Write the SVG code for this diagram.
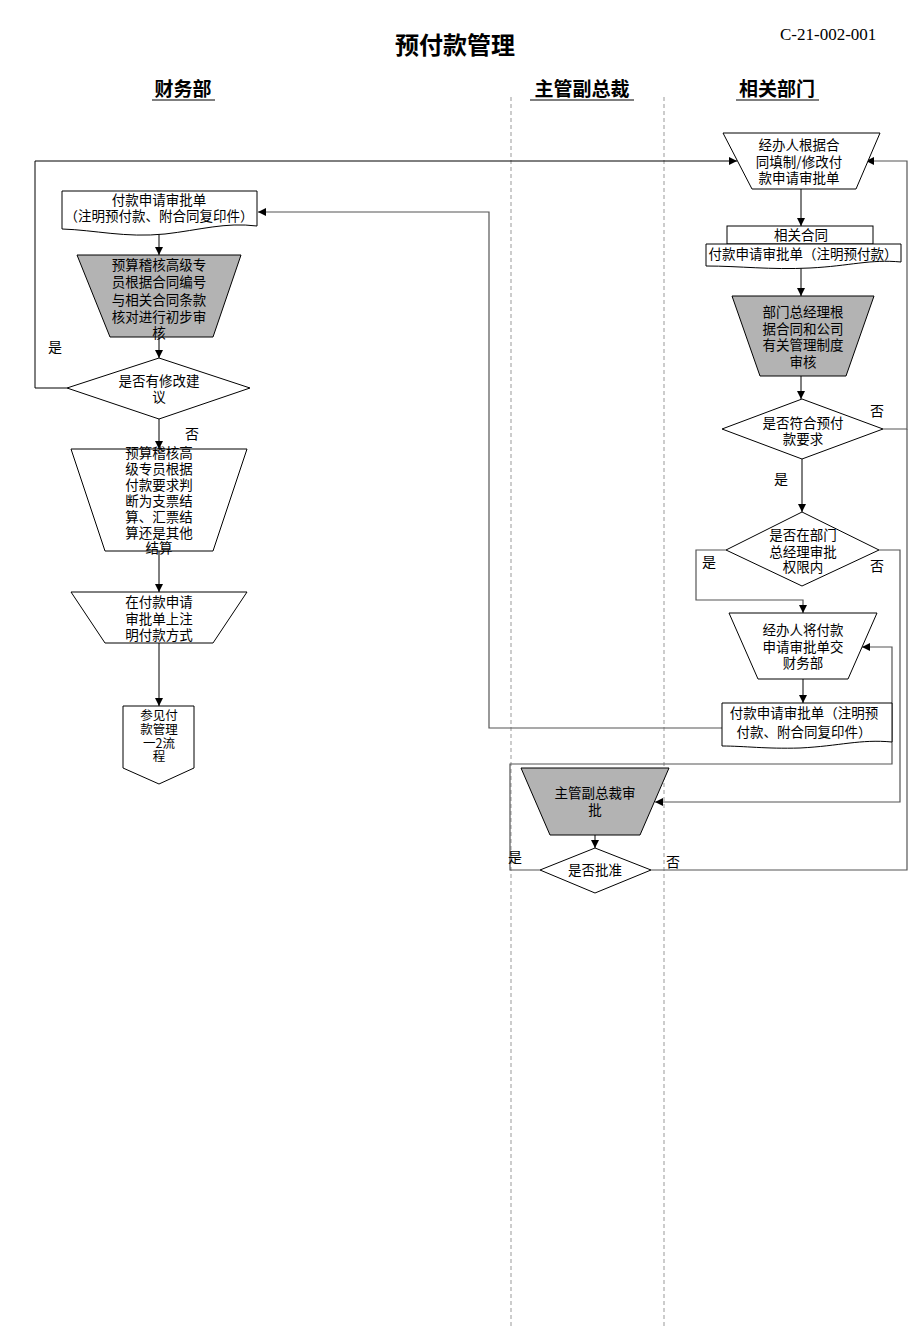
<svg xmlns="http://www.w3.org/2000/svg" width="920" height="1327" viewBox="0 0 920 1327">
<defs>
<marker id="arr" viewBox="0 0 10 10" refX="10" refY="5" markerWidth="8" markerHeight="8" markerUnits="userSpaceOnUse" orient="auto">
<path d="M0,0 L10,5 L0,10 Z" fill="#000"/>
</marker>
<style>
text{font-family:"Noto Sans CJK SC","Noto Sans CJK JP",sans-serif;font-size:13.5px;fill:#000;text-anchor:middle}
.t{font-size:24px;font-weight:bold}
.h{font-size:19px;font-weight:bold}
.code{font-family:"Liberation Serif",serif;font-size:17px;text-anchor:start}
.lbl{font-size:14px}
.sm{font-size:12.5px}
.w{fill:#fff;stroke:#000;stroke-width:1}
.g{fill:#b3b3b3;stroke:#000;stroke-width:1}
.c{fill:none;stroke:#000;stroke-width:1}
.cg{fill:none;stroke:#555;stroke-width:1.2}
.lane{stroke:#999;stroke-width:1;stroke-dasharray:4,3}
</style>
</defs>
<rect width="920" height="1327" fill="#fff"/>
<g id="header">
<text class="t" x="455" y="54">预付款管理</text>
<text class="code" x="780" y="40">C-21-002-001</text>
<text class="h" x="183" y="96">财务部</text>
<line x1="152" y1="100" x2="215" y2="100" stroke="#000" stroke-width="1.2"/>
<text class="h" x="582" y="96">主管副总裁</text>
<line x1="530" y1="100" x2="634" y2="100" stroke="#000" stroke-width="1.2"/>
<text class="h" x="777" y="96">相关部门</text>
<line x1="736" y1="100" x2="819" y2="100" stroke="#000" stroke-width="1.2"/>
<line class="lane" x1="511" y1="97" x2="511" y2="1327"/>
<line class="lane" x1="664" y1="97" x2="664" y2="1327"/>
</g>
<g id="connectors">
<polyline class="c" points="67,388 35,388 35,161 737,161" marker-end="url(#arr)"/>
<polyline class="cg" points="722,728 489,728 489,212 258,212" marker-end="url(#arr)"/>
<line class="c" x1="159" y1="233" x2="159" y2="255" marker-end="url(#arr)"/>
<line class="c" x1="159" y1="337" x2="159" y2="358" marker-end="url(#arr)"/>
<line class="c" x1="159" y1="419" x2="159" y2="449" marker-end="url(#arr)"/>
<line class="c" x1="159" y1="551" x2="159" y2="592" marker-end="url(#arr)"/>
<line class="c" x1="159" y1="643" x2="159" y2="706" marker-end="url(#arr)"/>
<line class="c" x1="801" y1="189" x2="801" y2="226" marker-end="url(#arr)"/>
<line class="c" x1="801" y1="265" x2="801" y2="296" marker-end="url(#arr)"/>
<line class="c" x1="801" y1="376" x2="801" y2="399" marker-end="url(#arr)"/>
<polyline class="cg" points="883,429 907,429 907,161 866,161" marker-end="url(#arr)"/>
<line class="c" x1="802" y1="459" x2="802" y2="512" marker-end="url(#arr)"/>
<polyline class="cg" points="726,550 696,550 696,600 803,600 803,613" marker-end="url(#arr)"/>
<polyline class="cg" points="879,550 900,550 900,802 655,802" marker-end="url(#arr)"/>
<line class="c" x1="803" y1="679" x2="803" y2="703" marker-end="url(#arr)"/>
<line class="c" x1="595" y1="835" x2="595" y2="848" marker-end="url(#arr)"/>
<polyline class="cg" points="540,870 510,870 510,764 892,764 892,647 862,647" marker-end="url(#arr)"/>
<polyline class="cg" points="651,870 907,870 907,429"/>
<text class="lbl" x="55" y="352">是</text>
<text class="lbl" x="192" y="439">否</text>
<text class="lbl" x="877" y="416">否</text>
<text class="lbl" x="781" y="484">是</text>
<text class="lbl" x="709" y="567">是</text>
<text class="lbl" x="877" y="571">否</text>
<text class="lbl" x="515" y="862">是</text>
<text class="lbl" x="673" y="867">否</text>
</g>
<g id="n_doc_left">
<path class="w" d="M62,191 H257 V226 C225,222 200,230 165,234 C125,238 95,230 62,229 Z"/>
<text x="159" y="205">付款申请审批单<tspan x="159" dy="16">（注明预付款、附合同复印件）</tspan></text>
</g>
<g id="n_review1">
<polygon class="g" points="77,255 241,255 213,337 110,337"/>
<text x="159" y="270">预算稽核高级专<tspan x="159" dy="17">员根据合同编号</tspan><tspan x="159" dy="18">与相关合同条款</tspan><tspan x="159" dy="17">核对进行初步审</tspan><tspan x="159" dy="16">核</tspan></text>
</g>
<g id="n_dec1">
<polygon class="w" points="159,358 250,388 159,419 67,388"/>
<text x="159" y="386">是否有修改建<tspan x="159" dy="16">议</tspan></text>
</g>
<g id="n_review2">
<polygon class="w" points="71,449 247,449 213,551 105,551"/>
<text x="159" y="458">预算稽核高<tspan x="159" dy="16">级专员根据</tspan><tspan x="159" dy="16">付款要求判</tspan><tspan x="159" dy="16">断为支票结</tspan><tspan x="159" dy="16">算、汇票结</tspan><tspan x="159" dy="16">算还是其他</tspan><tspan x="159" dy="15">结算</tspan></text>
</g>
<g id="n_note">
<polygon class="w" points="71,592 247,592 213,643 105,643"/>
<text x="159" y="607">在付款申请<tspan x="159" dy="17">审批单上注</tspan><tspan x="159" dy="16">明付款方式</tspan></text>
</g>
<g id="n_offpage">
<polygon class="w" points="123,706 194,706 194,768 159,784 123,768"/>
<text class="sm" x="159" y="720">参见付<tspan x="159" dy="14">款管理</tspan><tspan x="159" dy="14">一2流</tspan><tspan x="159" dy="13">程</tspan></text>
</g>
<g id="n_fill">
<polygon class="w" points="723,133 880,133 856,189 752,189"/>
<text x="799" y="150">经办人根据合<tspan x="799" dy="17">同填制/修改付</tspan><tspan x="799" dy="16">款申请审批单</tspan></text>
</g>
<g id="n_docs_right">
<rect class="w" x="727" y="226" width="146" height="18"/>
<text x="801" y="240">相关合同</text>
<path class="w" d="M706,244 H901 V262 C870,259 850,266 810,268 C770,270 740,266 706,266 Z"/>
<text x="803" y="259">付款申请审批单（注明预付款）</text>
</g>
<g id="n_mgr_review">
<polygon class="g" points="732,296 874,296 846,376 760,376"/>
<text x="803" y="317">部门总经理根<tspan x="803" dy="17">据合同和公司</tspan><tspan x="803" dy="16">有关管理制度</tspan><tspan x="803" dy="17">审核</tspan></text>
</g>
<g id="n_dec2">
<polygon class="w" points="802,399 883,429 802,459 722,429"/>
<text x="803" y="428">是否符合预付<tspan x="803" dy="16">款要求</tspan></text>
</g>
<g id="n_dec3">
<polygon class="w" points="802,512 879,550 802,586 726,550"/>
<text x="803" y="540">是否在部门<tspan x="803" dy="17">总经理审批</tspan><tspan x="803" dy="15">权限内</tspan></text>
</g>
<g id="n_submit">
<polygon class="w" points="729,613 877,613 848,679 758,679"/>
<text x="803" y="635">经办人将付款<tspan x="803" dy="17">申请审批单交</tspan><tspan x="803" dy="16">财务部</tspan></text>
</g>
<g id="n_doc_right2">
<path class="w" d="M722,703 H892 V742 C860,739 840,746 800,748 C765,749 745,746 722,746 Z"/>
<text x="804" y="718">付款申请审批单（注明预<tspan x="804" dy="19">付款、附合同复印件）</tspan></text>
</g>
<g id="n_vp_review">
<polygon class="g" points="521,768 669,768 640,835 550,835"/>
<text x="595" y="798">主管副总裁审<tspan x="595" dy="17">批</tspan></text>
</g>
<g id="n_dec4">
<polygon class="w" points="595,848 651,870 595,893 540,870"/>
<text x="595" y="875">是否批准</text>
</g>
</svg>
